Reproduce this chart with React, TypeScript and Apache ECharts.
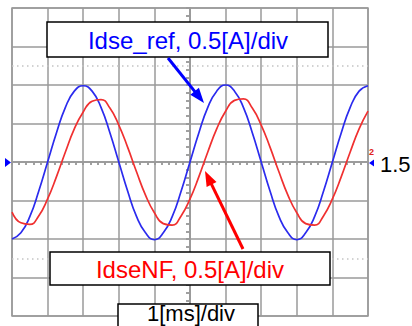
import React, { useEffect, useRef } from "react";
import * as echarts from "echarts";

// Time base: 1 ms/div, 10 divisions centred on 0
const timeMs: number[] = [
  -5, -4.75, -4.5, -4.25, -4, -3.75, -3.5, -3.25, -3, -2.75, -2.5, -2.25, -2, -1.75, -1.5, -1.25,
  -1, -0.75, -0.5, -0.25, 0, 0.25, 0.5, 0.75, 1, 1.25, 1.5, 1.75, 2, 2.25, 2.5, 2.75,
  3, 3.25, 3.5, 3.75, 4, 4.25, 4.5, 4.75, 5,
];

// Reference current Idse_ref [A]
const idseRef: number[] = [
  -1.0, -0.92, -0.71, -0.38, 0.0, 0.38, 0.71, 0.92, 0.99, 0.92, 0.71, 0.38, 0.0, -0.38, -0.71, -0.92,
  -1.01, -0.92, -0.71, -0.38, 0.0, 0.38, 0.71, 0.92, 1.0, 0.92, 0.71, 0.38, 0.0, -0.38, -0.71, -0.92,
  -1.01, -0.92, -0.71, -0.38, 0.0, 0.38, 0.71, 0.92, 0.99,
];

// Filtered current IdseNF [A]
const idseNF: number[] = [
  -0.65, -0.79, -0.81, -0.7, -0.48, -0.19, 0.13, 0.43, 0.65, 0.79, 0.81, 0.7, 0.48, 0.19, -0.13, -0.43,
  -0.66, -0.8, -0.82, -0.7, -0.48, -0.19, 0.13, 0.43, 0.66, 0.8, 0.82, 0.7, 0.48, 0.19, -0.13, -0.43,
  -0.66, -0.8, -0.82, -0.7, -0.48, -0.19, 0.13, 0.43, 0.66,
];

// Cursor levels [A]
const cursorLevels: number[] = [1.25, -1.25];

const FONT = "'Liberation Sans', Arial, sans-serif";
const GRID_COLOR = "#9a9a9a";

function arrow(tail: [number, number], tip: [number, number], color: string) {
  const dx = tip[0] - tail[0];
  const dy = tip[1] - tail[1];
  const len = Math.hypot(dx, dy);
  const ux = dx / len;
  const uy = dy / len;
  const headLen = 15;
  const headHalf = 5.5;
  const bx = tip[0] - ux * headLen;
  const by = tip[1] - uy * headLen;
  return [
    {
      type: "line",
      shape: { x1: tail[0], y1: tail[1], x2: bx + ux * 2, y2: by + uy * 2 },
      style: { stroke: color, lineWidth: 3 },
      z: 100,
    },
    {
      type: "polygon",
      shape: {
        points: [
          [tip[0], tip[1]],
          [bx - uy * headHalf, by + ux * headHalf],
          [bx + uy * headHalf, by - ux * headHalf],
        ],
      },
      style: { fill: color },
      z: 100,
    },
  ];
}

function labelBox(
  x: number,
  y: number,
  w: number,
  h: number,
  text: string,
  color: string,
  size: number,
  tx: number,
  ty: number
) {
  return [
    {
      type: "rect",
      shape: { x, y, width: w, height: h },
      style: { fill: "#ffffff", stroke: "#000000", lineWidth: 1.5 },
      z: 100,
    },
    {
      type: "text",
      x: tx,
      y: ty,
      style: {
        text,
        fill: color,
        font: `${size}px ${FONT}`,
        align: "center",
        verticalAlign: "middle",
      },
      z: 101,
    },
  ];
}

export default function App() {
  const ref = useRef<HTMLDivElement>(null);

  useEffect(() => {
    if (!ref.current) return;
    const chart = echarts.init(ref.current, undefined, { renderer: "svg" });

    const axisCommon = {
      type: "value" as const,
      axisLabel: { show: false },
      axisLine: { show: true, onZero: true, lineStyle: { color: GRID_COLOR, width: 1.5 } },
    };

    chart.setOption({
      animation: false,
      backgroundColor: "#ffffff",
      grid: {
        left: 12,
        top: 8,
        width: 356,
        height: 308,
        show: true,
        borderColor: GRID_COLOR,
        borderWidth: 1.5,
        backgroundColor: "transparent",
      },
      xAxis: [
        {
          ...axisCommon,
          min: -5,
          max: 5,
          interval: 1,
          axisTick: { show: true, inside: false, length: 3, lineStyle: { color: GRID_COLOR, width: 1.5 } },
          minorTick: { show: true, splitNumber: 5, length: 3, lineStyle: { color: GRID_COLOR, width: 1.5 } },
          splitLine: { show: true, lineStyle: { color: GRID_COLOR, width: 1.5 } },
        },
        {
          ...axisCommon,
          min: -5,
          max: 5,
          interval: 1,
          axisTick: { show: true, inside: true, length: 3, lineStyle: { color: GRID_COLOR, width: 1.5 } },
          minorTick: { show: true, splitNumber: 5, length: 3, lineStyle: { color: GRID_COLOR, width: 1.5 } },
          splitLine: { show: false },
        },
      ],
      yAxis: [
        {
          ...axisCommon,
          min: -2,
          max: 2,
          interval: 0.5,
          axisTick: { show: true, inside: false, length: 4, lineStyle: { color: GRID_COLOR, width: 1.5 } },
          minorTick: { show: true, splitNumber: 5, length: 4, lineStyle: { color: GRID_COLOR, width: 1.5 } },
          splitLine: { show: true, lineStyle: { color: GRID_COLOR, width: 1.5 } },
        },
        {
          ...axisCommon,
          min: -2,
          max: 2,
          interval: 0.5,
          axisTick: { show: true, inside: true, length: 4, lineStyle: { color: GRID_COLOR, width: 1.5 } },
          minorTick: { show: true, splitNumber: 5, length: 4, lineStyle: { color: GRID_COLOR, width: 1.5 } },
          splitLine: { show: false },
        },
      ],
      series: [
        {
          name: "Idse_ref",
          type: "line",
          data: timeMs.map((t, i) => [t, idseRef[i]]),
          smooth: true,
          showSymbol: false,
          lineStyle: { color: "#2b2bee", width: 1.7 },
          markLine: {
            silent: true,
            symbol: "none",
            label: { show: false },
            lineStyle: { color: "#c4c4c4", width: 1.5, type: [1.5, 3.5] },
            data: cursorLevels.map((v) => ({ yAxis: v })),
          },
        },
        {
          name: "IdseNF",
          type: "line",
          data: timeMs.map((t, i) => [t, idseNF[i]]),
          smooth: true,
          showSymbol: false,
          lineStyle: { color: "#f03030", width: 1.7 },
        },
      ],
      graphic: [
        ...labelBox(47, 22, 281, 35, "Idse_ref, 0.5[A]/div", "#0000ff", 24, 188, 40.5),
        ...labelBox(50, 252, 280, 33, "IdseNF, 0.5[A]/div", "#ff0000", 24, 190, 269.5),
        ...labelBox(118, 304, 140, 30, "1[ms]/div", "#000000", 22, 191, 313),
        ...arrow([168, 58], [204, 103], "#0000ff"),
        ...arrow([243, 249], [205, 171], "#ff0000"),
        {
          type: "polygon",
          shape: { points: [[5, 158], [11, 162.5], [5, 167]] },
          style: { fill: "#0000ff" },
          z: 100,
        },
        {
          type: "polygon",
          shape: { points: [[374, 159.5], [369, 163], [374, 166.5]] },
          style: { fill: "#0000ff" },
          z: 100,
        },
        {
          type: "text",
          x: 369,
          y: 152,
          style: { text: "2", fill: "#e02020", font: `bold 9px ${FONT}`, verticalAlign: "middle" },
          z: 100,
        },
        {
          type: "text",
          x: 380,
          y: 164,
          style: { text: "1.5", fill: "#000000", font: `22px ${FONT}`, verticalAlign: "middle" },
          z: 100,
        },
      ],
    });

    return () => chart.dispose();
  }, []);

  return (
    <div
      ref={ref}
      style={{ position: "fixed", left: 0, top: 0, width: 412, height: 326, background: "#ffffff" }}
    />
  );
}
